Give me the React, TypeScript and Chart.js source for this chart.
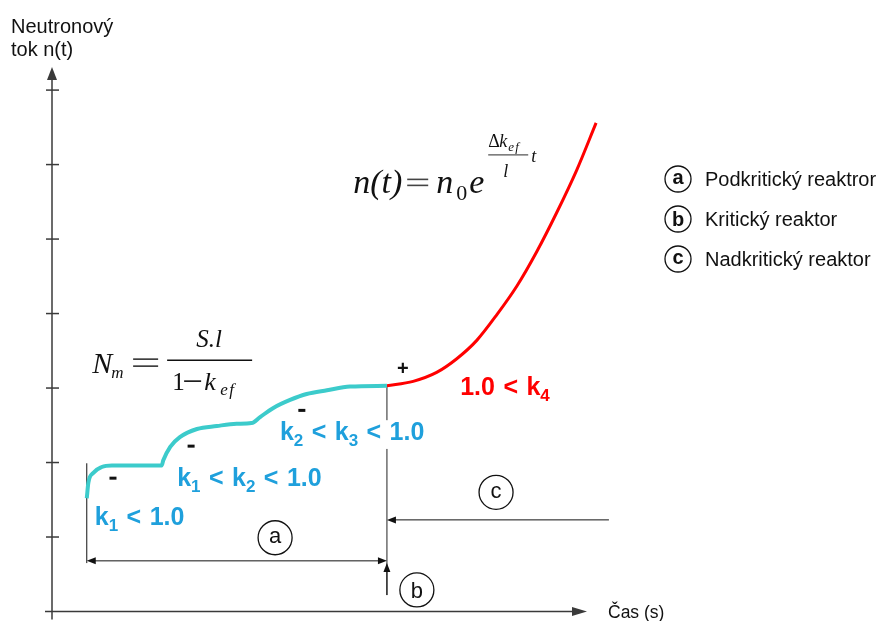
import { useEffect, useRef } from "react";
import { Chart, registerables } from "chart.js";

Chart.register(...registerables);

// Subcritical reactor: neutron flux settles at successively higher levels
const subcriticalTime = [0.65, 0.68, 0.77, 0.93, 1.12, 2.05, 2.08, 2.21, 2.39, 2.71, 3.08, 3.45, 3.73, 3.89, 4.13, 4.45, 4.76, 5.14, 5.57, 6.26];
const subcriticalFlux = [1.52, 1.73, 1.86, 1.94, 1.96, 1.96, 2.03, 2.21, 2.34, 2.45, 2.49, 2.52, 2.53, 2.61, 2.73, 2.84, 2.92, 2.97, 3.02, 3.03];

// Supercritical reactor: exponential growth of the flux
const supercriticalTime = [6.26, 6.75, 7.19, 7.56, 7.94, 8.31, 8.69, 9.06, 9.43, 9.81, 10.17];
const supercriticalFlux = [3.03, 3.09, 3.21, 3.39, 3.64, 3.98, 4.37, 4.83, 5.35, 5.93, 6.56];

const fluxTicks = [1, 2, 3, 4, 5, 6, 7];

// "_" puts the following character in subscript
const stepLabels = ["k_1 < 1.0", "k_1 < k_2 < 1.0", "k_2 < k_3 < 1.0", "1.0 < k_4"];
const legendLetters = ["a", "b", "c"];
const legendTexts = ["Podkritický reaktror", "Kritický reaktor", "Nadkritický reaktor"];

const FLUX_MAX = 7.31;
const TIME_MAX = 10;

const SANS = '"Liberation Sans", Arial, sans-serif';
const SERIF = '"Liberation Serif", "Times New Roman", serif';

const CYAN = "#3CCBCB";
const RED = "#FF0000";
const BLUE = "#1FA0DC";
const INK = "#111111";
const AXIS = "#3a3a3a";

type Ctx = CanvasRenderingContext2D;

function seg(ctx: Ctx, x1: number, y1: number, x2: number, y2: number) {
  ctx.beginPath();
  ctx.moveTo(x1, y1);
  ctx.lineTo(x2, y2);
  ctx.stroke();
}

function head(ctx: Ctx, tx: number, ty: number, dx: number, dy: number, len: number, half: number) {
  const bx = tx - dx * len;
  const by = ty - dy * len;
  const px = -dy;
  const py = dx;
  ctx.beginPath();
  ctx.moveTo(tx, ty);
  ctx.lineTo(bx + px * half, by + py * half);
  ctx.lineTo(bx - px * half, by - py * half);
  ctx.closePath();
  ctx.fill();
}

function txt(ctx: Ctx, s: string, x: number, y: number, font: string, color = INK, align: CanvasTextAlign = "left") {
  ctx.font = font;
  ctx.fillStyle = color;
  ctx.textAlign = align;
  ctx.textBaseline = "alphabetic";
  ctx.fillText(s, x, y);
}

// two-bar equals sign, drawn wider than the serif glyph
function equals(ctx: Ctx, x1: number, x2: number, y1: number, y2: number, color: string) {
  ctx.strokeStyle = color;
  ctx.lineWidth = 1.6;
  seg(ctx, x1, y1, x2, y1);
  seg(ctx, x1, y2, x2, y2);
}

function rich(ctx: Ctx, str: string, x: number, y: number, size: number, color: string, backdrop = false) {
  const parts: { t: string; sub: boolean }[] = [];
  for (let i = 0; i < str.length; i++) {
    if (str[i] === "_" && i + 1 < str.length) {
      parts.push({ t: str[i + 1], sub: true });
      i++;
    } else {
      const last = parts[parts.length - 1];
      if (last && !last.sub) last.t += str[i];
      else parts.push({ t: str[i], sub: false });
    }
  }
  const subSize = Math.round(size * 0.66);
  const extraGap = 1.5;
  const fontOf = (p: { sub: boolean }) => `bold ${p.sub ? subSize : size}px ${SANS}`;
  const advance = (p: { t: string; sub: boolean }) => {
    ctx.font = fontOf(p);
    const spaces = (p.t.match(/ /g) || []).length;
    return ctx.measureText(p.t).width + spaces * extraGap;
  };
  let w = 0;
  for (const p of parts) w += advance(p);
  if (backdrop) {
    ctx.fillStyle = "#ffffff";
    ctx.fillRect(x - 2, y - size * 0.8, w + 4, size * 1.15);
  }
  ctx.textAlign = "left";
  ctx.textBaseline = "alphabetic";
  ctx.fillStyle = color;
  let cx = x;
  for (const p of parts) {
    ctx.font = fontOf(p);
    const words = p.t.split(" ");
    const sp = ctx.measureText(" ").width + extraGap;
    words.forEach((word, k) => {
      if (k > 0) cx += sp;
      if (word) {
        ctx.fillText(word, cx, p.sub ? y + size * 0.24 : y);
        cx += ctx.measureText(word).width;
      }
    });
  }
}

function ring(ctx: Ctx, cx: number, cy: number, r: number, letter: string, size: number, bold: boolean) {
  ctx.beginPath();
  ctx.arc(cx, cy, r, 0, Math.PI * 2);
  ctx.fillStyle = "#ffffff";
  ctx.fill();
  ctx.lineWidth = 1.3;
  ctx.strokeStyle = INK;
  ctx.stroke();
  const lift = letter === "b" ? 0.36 : 0.26;
  txt(ctx, letter, cx, cy + size * lift, `${bold ? "bold " : ""}${size}px ${SANS}`, INK, "center");
}

const overlay = {
  id: "reactorOverlay",
  beforeDatasetsDraw(chart: any) {
    const ctx: Ctx = chart.ctx;
    const X = (v: number) => chart.scales.x.getPixelForValue(v);
    const Y = (v: number) => chart.scales.y.getPixelForValue(v);
    const tc = subcriticalTime[subcriticalTime.length - 1];
    const t0 = subcriticalTime[0];
    ctx.save();

    // axes with arrows
    ctx.strokeStyle = AXIS;
    ctx.fillStyle = AXIS;
    ctx.lineWidth = 1.5;
    seg(ctx, X(0), Y(0) + 8, X(0), Y(FLUX_MAX) + 10);
    head(ctx, X(0), Y(FLUX_MAX), 0, -1, 13, 5);
    seg(ctx, X(0) - 7, Y(0), X(TIME_MAX) - 10, Y(0));
    head(ctx, X(TIME_MAX), Y(0), 1, 0, 15, 4.5);
    for (const t of fluxTicks) seg(ctx, X(0) - 6, Y(t), X(0) + 7, Y(t));

    // critical moment
    ctx.strokeStyle = "#555555";
    ctx.lineWidth = 1.3;
    seg(ctx, X(tc), Y(subcriticalFlux[subcriticalFlux.length - 1]), X(tc), Y(0.22));

    ctx.strokeStyle = INK;
    ctx.fillStyle = INK;
    ctx.lineWidth = 1;
    // subcritical span (a)
    seg(ctx, X(t0), Y(1.99), X(t0), Y(0.65));
    seg(ctx, X(t0) + 6, Y(0.68), X(tc) - 6, Y(0.68));
    head(ctx, X(t0), Y(0.68), -1, 0, 9, 3.5);
    head(ctx, X(tc), Y(0.68), 1, 0, 9, 3.5);
    // critical point (b)
    seg(ctx, X(tc), Y(0.22), X(tc), Y(0.65) + 6);
    head(ctx, X(tc), Y(0.65), 0, -1, 9, 3.5);
    // supercritical span (c)
    seg(ctx, X(10.41), Y(1.23), X(tc) + 6, Y(1.23));
    head(ctx, X(tc), Y(1.23), -1, 0, 9, 3.5);

    ring(ctx, X(4.17), Y(0.99), 17, "a", 22, false);
    ring(ctx, X(6.82), Y(0.29), 17, "b", 22, false);
    ring(ctx, X(8.3), Y(1.6), 17, "c", 22, false);
    ctx.restore();
  },
  afterDatasetsDraw(chart: any) {
    const ctx: Ctx = chart.ctx;
    const X = (v: number) => chart.scales.x.getPixelForValue(v);
    const Y = (v: number) => chart.scales.y.getPixelForValue(v);
    const area = chart.chartArea;
    ctx.save();

    // axis titles
    txt(ctx, "Neutronový", area.left - 41, area.top - 34, `20px ${SANS}`);
    txt(ctx, "tok n(t)", area.left - 41, area.top - 11, `20px ${SANS}`);
    txt(ctx, "Čas (s)", area.right + 21, area.bottom + 6, `17.5px ${SANS}`);

    // reactivity steps
    rich(ctx, stepLabels[0], X(0.8), Y(1.16), 25, BLUE);
    rich(ctx, stepLabels[1], X(2.34), Y(1.68), 25, BLUE);
    rich(ctx, stepLabels[2], X(4.26), Y(2.3), 25, BLUE, true);
    rich(ctx, stepLabels[3], X(7.63), Y(2.91), 25, RED);

    ctx.fillStyle = INK;
    for (const [t, n] of [[1.14, 1.79], [2.6, 2.22], [4.67, 2.7]]) {
      ctx.fillRect(X(t) - 3.5, Y(n) - 1.5, 7, 3);
    }
    txt(ctx, "+", X(6.56), Y(3.27) + 7, `bold 20px ${SANS}`, INK, "center");

    // n(t) = n0 e^(dk/l t)
    const fx = X(5.63);
    const fy = Y(5.62);
    txt(ctx, "n(t)", fx, fy, `italic 34px ${SERIF}`);
    equals(ctx, fx + 54, fx + 75, fy - 13.5, fy - 7.5, "#444");
    txt(ctx, "n", fx + 83, fy, `italic 34px ${SERIF}`);
    txt(ctx, "0", fx + 103, fy + 7, `22px ${SERIF}`);
    txt(ctx, "e", fx + 116, fy, `italic 34px ${SERIF}`);
    txt(ctx, "Δ", fx + 135, fy - 46, `18px ${SERIF}`);
    txt(ctx, "k", fx + 146, fy - 46, `italic 18px ${SERIF}`);
    txt(ctx, "e", fx + 155, fy - 42, `italic 13px ${SERIF}`);
    txt(ctx, "f", fx + 162, fy - 42, `italic 13px ${SERIF}`);
    ctx.strokeStyle = "#555";
    ctx.lineWidth = 1.3;
    seg(ctx, fx + 135, fy - 38, fx + 175, fy - 38);
    txt(ctx, "l", fx + 150, fy - 16, `italic 18px ${SERIF}`);
    txt(ctx, "t", fx + 178, fy - 31, `italic 18px ${SERIF}`);

    // Nm = S.l / (1 - kef)
    const nx = X(0.75);
    const ny = Y(3.2);
    txt(ctx, "N", nx, ny, `italic 30px ${SERIF}`);
    txt(ctx, "m", nx + 19, ny + 5, `italic 17px ${SERIF}`);
    equals(ctx, nx + 41, nx + 66, ny - 14, ny - 7, "#333");
    ctx.strokeStyle = INK;
    ctx.lineWidth = 1.5;
    seg(ctx, nx + 75, ny - 13, nx + 160, ny - 13);
    txt(ctx, "S.l", nx + 117, ny - 26, `italic 25px ${SERIF}`, INK, "center");
    txt(ctx, "1", nx + 80, ny + 17, `25px ${SERIF}`);
    ctx.strokeStyle = INK;
    ctx.lineWidth = 1.6;
    seg(ctx, nx + 92, ny + 8, nx + 109, ny + 8);
    txt(ctx, "k", nx + 112, ny + 17, `italic 26px ${SERIF}`);
    txt(ctx, "e", nx + 128, ny + 22, `italic 17px ${SERIF}`);
    txt(ctx, "f", nx + 137, ny + 22, `italic 17px ${SERIF}`);

    // legend
    const lx = area.right + 91;
    legendLetters.forEach((letter, i) => {
      const cy = area.top + 112 + i * 40;
      ring(ctx, lx, cy, 13, letter, 20, true);
      txt(ctx, legendTexts[i], lx + 27, cy + 7, `20px ${SANS}`);
    });
    ctx.restore();
  },
};

export default function App() {
  const canvasRef = useRef<HTMLCanvasElement | null>(null);

  useEffect(() => {
    const canvas = canvasRef.current;
    if (!canvas) return;
    const chart = new Chart(canvas, {
      type: "line",
      data: {
        datasets: [
          {
            data: subcriticalTime.map((t, i) => ({ x: t, y: subcriticalFlux[i] })),
            borderColor: CYAN,
            borderWidth: 4,
            pointRadius: 0,
            cubicInterpolationMode: "monotone",
            clip: false,
          },
          {
            data: supercriticalTime.map((t, i) => ({ x: t, y: supercriticalFlux[i] })),
            borderColor: RED,
            borderWidth: 3,
            pointRadius: 0,
            cubicInterpolationMode: "monotone",
            clip: false,
          },
        ],
      },
      options: {
        responsive: false,
        animation: false,
        devicePixelRatio: 1,
        layout: { padding: { left: 52, right: 302, top: 67, bottom: 9.5 } },
        scales: {
          x: { type: "linear", min: 0, max: TIME_MAX, display: false },
          y: { type: "linear", min: 0, max: FLUX_MAX, display: false },
        },
        plugins: { legend: { display: false }, tooltip: { enabled: false } },
      },
      plugins: [overlay],
    } as any);
    return () => chart.destroy();
  }, []);

  return (
    <div style={{ position: "fixed", left: 0, top: 0, width: 889, height: 621, background: "#fff" }}>
      <canvas ref={canvasRef} width={889} height={621} />
    </div>
  );
}
